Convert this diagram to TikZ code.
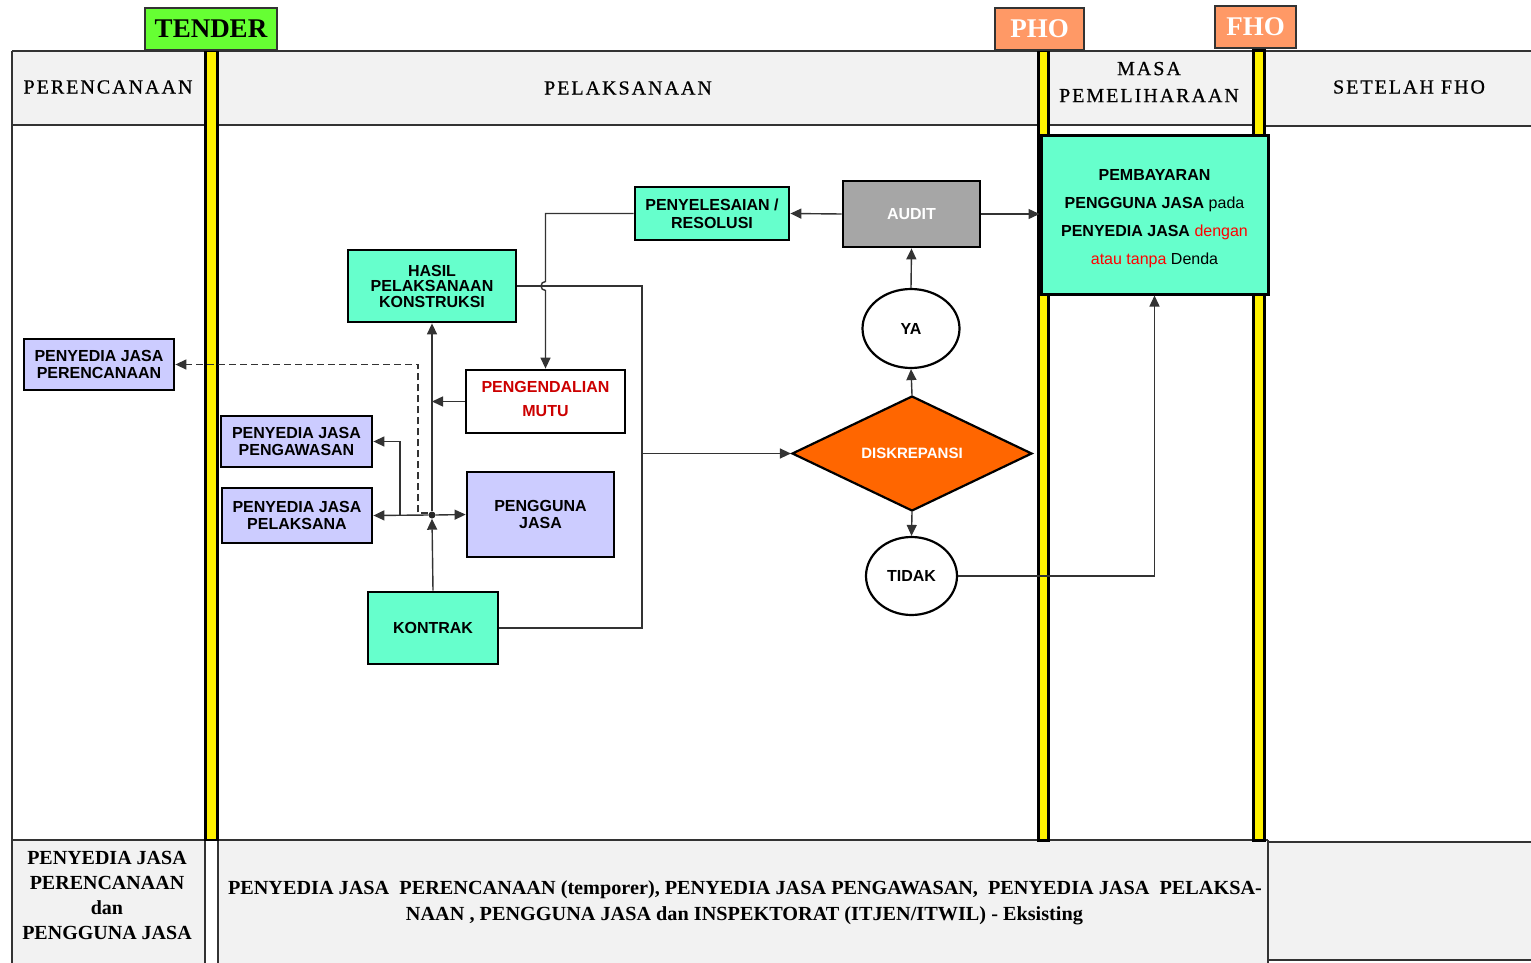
\documentclass[tikz,border=0pt]{standalone}
\usepackage{fontspec}
\usepackage{graphicx}
\setmainfont{Liberation Serif}
\newfontfamily\hfont[LetterSpace=10,FakeBold=0.6]{Liberation Serif}
\newfontfamily\bfont{Liberation Sans}
\usetikzlibrary{arrows.meta,shapes.geometric}
\definecolor{aqua}{HTML}{66FFCC}
\definecolor{lav}{HTML}{CCCCFF}
\definecolor{hdr}{HTML}{F2F2F2}
\definecolor{tgreen}{HTML}{66FF33}
\definecolor{phoc}{HTML}{FF9966}
\definecolor{dorange}{HTML}{FF6600}
\definecolor{agray}{HTML}{A6A6A6}
\definecolor{dred}{HTML}{CC0000}
\definecolor{lred}{HTML}{FF0000}
\definecolor{lcol}{HTML}{333333}
\tikzset{
  tline/.style={draw=lcol, line width=1.3pt},
  nbox/.style={draw=black, line width=2.8pt, inner sep=0pt, align=center, font=\bfont\bfseries\fontsize{16}{17}\selectfont},
  aq/.style={nbox, fill=aqua},
  lv/.style={nbox, fill=lav},
  conn/.style={draw=lcol, line width=1.4pt, -{Triangle[length=11pt,width=10pt]}},
  plain/.style={draw=lcol, line width=1.4pt},
  marker/.style={draw=lcol, line width=1.2pt, inner sep=0pt, font=\bfseries\fontsize{27}{30}\selectfont},
  bar/.style={draw=black, fill=yellow, line width=2.2pt},
  htext/.style={font=\hfont\fontsize{20}{27}\selectfont, align=center},
  btext/.style={font=\bfseries\fontsize{20}{24.7}\selectfont, align=center},
  ptext/.style={align=center, inner sep=0pt, font=\bfont\bfseries\fontsize{16}{28}\selectfont}
}
\begin{document}
\begin{tikzpicture}[x=1pt,y=-1pt]
\useasboundingbox (0,0) rectangle (1531,963);
% table backgrounds
\fill[hdr] (12,51) rectangle (1531,125);
\fill[hdr] (12,840) rectangle (205,963);
\fill[hdr] (218,840) rectangle (1268,963);
\fill[hdr] (1268,842) rectangle (1531,960);
% table lines
\draw[tline] (12,51) -- (1531,51);
\draw[tline] (12,125) -- (1266,125);
\draw[tline, line width=2pt] (1266,126) -- (1531,126);
\draw[tline] (12,51) -- (12,963);
\draw[tline, line width=1.8pt] (12,840) -- (1268,840);
\draw[tline] (205,840) -- (205,963);
\draw[tline] (218,840) -- (218,963);
\draw[tline] (1268,840) -- (1268,963);
\draw[tline] (1268,842) -- (1531,842);
\draw[tline] (1268,960) -- (1531,960);
% bars
\draw[bar] (205.5,51) rectangle (217.5,840);
\draw[bar, line width=3pt] (1038,51) rectangle (1048,840);
\draw[bar, line width=3pt] (1253.5,51) rectangle (1264.5,840);
% markers
\node[marker, fill=tgreen, minimum width=132, minimum height=42] (tender) at (211,29) {TENDER};
\node[marker, fill=phoc, text=white, minimum width=89, minimum height=42] (pho) at (1039.5,29) {PHO};
\node[marker, fill=phoc, text=white, minimum width=81, minimum height=42] (fho) at (1255.5,27) {FHO};
% header texts
\node[htext] (h1) at (108,87) {PERENCANAAN};
\node[htext] (h2) at (628,88) {PELAKSANAAN};
\node[htext] (h3) at (1149,82) {MASA\\PEMELIHARAAN};
\node[htext] (h4) at (1409,87) {SETELAH FHO};
% bottom texts
\node[btext] (bl) at (107,895.5) {PENYEDIA JASA\\PERENCANAAN\\dan\\PENGGUNA JASA};
\node[btext] (bm1) at (745,890) {\resizebox{1034pt}{\height}{PENYEDIA JASA\ \ PERENCANAAN (temporer), PENYEDIA JASA PENGAWASAN,\ \ PENYEDIA JASA\ \ PELAKSA-}};
\node[btext] (bm2) at (744.5,916) {\resizebox{677pt}{\height}{NAAN , PENGGUNA JASA dan INSPEKTORAT (ITJEN/ITWIL) - Eksisting}};
% nodes
\node[aq, minimum width=154, minimum height=53] (res) at (712,213.5) {PENYELESAIAN /\\[1pt]RESOLUSI};
\node[nbox, fill=agray, text=white, minimum width=137, minimum height=66] (audit) at (911.5,214) {AUDIT};
\node[aq, line width=3pt, minimum width=227, minimum height=158] (pay) at (1154.5,215) {};
\node[ptext] (payt) at (1154.5,219)
  {PEMBAYARAN\\PENGGUNA JASA {\mdseries pada}\\PENYEDIA JASA {\mdseries\color{lred}dengan}\\{\mdseries\color{lred}atau tanpa} {\mdseries Denda}};
\node[aq, minimum width=168, minimum height=72, font=\bfont\bfseries\fontsize{16}{15.5}\selectfont] (hasil) at (432,286) {HASIL\\PELAKSANAAN\\KONSTRUKSI};
\node[lv, minimum width=150, minimum height=51] (ppr) at (99,364.5) {PENYEDIA JASA\\PERENCANAAN};
\node[nbox, fill=white, minimum width=159, minimum height=63] (mutu) at (545.5,401.5) {};
\node[align=center, inner sep=0pt, text=dred, font=\bfont\bfseries\fontsize{16}{24}\selectfont] (mutut) at (545.5,399) {PENGENDALIAN\\MUTU};
\node[lv, minimum width=151, minimum height=51] (pwas) at (296.5,441.5) {PENYEDIA JASA\\PENGAWASAN};
\node[lv, minimum width=150, minimum height=55] (plak) at (297,515.5) {PENYEDIA JASA\\PELAKSANA};
\node[lv, minimum width=147, minimum height=85] (guna) at (540.5,514.5) {PENGGUNA\\JASA};
\node[aq, minimum width=130, minimum height=72] (kontrak) at (433,628) {KONTRAK};
\node[nbox, ellipse, line width=2.2pt, fill=white, minimum width=97, minimum height=79] (ya) at (911,328.5) {YA};
\node[nbox, diamond, line width=2.2pt, fill=dorange, text=white, minimum width=240, minimum height=115, font=\bfont\bfseries\fontsize{15}{17}\selectfont] (disk) at (912,453.5) {DISKREPANSI};
\node[nbox, ellipse, line width=2.2pt, fill=white, minimum width=91, minimum height=78] (tidak) at (911.5,576) {TIDAK};
\node[circle, fill=black!85, inner sep=0pt, minimum size=7] (j) at (432,515) {};
% helper coordinates
\coordinate (bus) at (642,453.5);
\coordinate (hopT) at (545.5,281.5);
\coordinate (br) at (400,515);
\coordinate (dj) at (418,513);
% connectors
\draw[conn] (audit.west) -- (res.east);
\draw[conn] (audit.east) -- (audit.east -| pay.west);
\draw[conn] (ya.north) -- (audit.south);
\draw[conn] (disk.north) -- (ya.south);
\draw[conn] (disk.south) -- (tidak.north);
\draw[conn] (tidak.east) -| (pay.south);
\draw[conn] (hasil.east) -| (bus) -- (disk.west);
\draw[plain] (kontrak.east) -| (bus);
\draw[conn] (res.west) -| (hopT) arc[start angle=90, end angle=270, radius=4.5pt] -- (mutu.north);
\draw[conn] (mutu.west) -- (mutu.west -| j);
\draw[conn] (kontrak.north) -- (j.south);
\draw[conn] (j.north) -- (hasil.south);
\draw[conn] (j.east) -- (guna.west);
\draw[conn] (j.west) -- (plak.east);
\draw[conn] (br) |- (pwas.east);
\draw[conn, dash pattern=on 7pt off 4pt] (j.west |- dj) -- (dj) |- (ppr.east);
\end{tikzpicture}
\end{document}
